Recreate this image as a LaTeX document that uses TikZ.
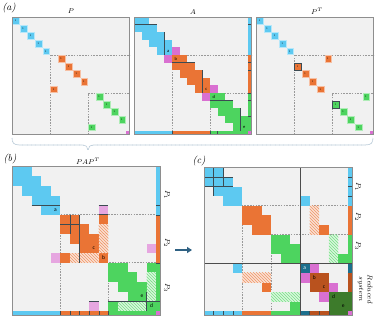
\documentclass[tikz,border=0pt]{standalone}
\usepackage{fontspec}
\newfontfamily\lblfont{Carlito}
\usetikzlibrary{patterns,arrows.meta}
\definecolor{cbg}{HTML}{F1F1F1}
\definecolor{cfr}{HTML}{8E8E8E}
\definecolor{cblue}{HTML}{5DC9F1}
\definecolor{corange}{HTML}{EA7435}
\definecolor{cgreen}{HTML}{4DD45F}
\definecolor{cmag}{HTML}{D970D1}
\definecolor{cpink}{HTML}{E6A6E0}
\definecolor{cteal}{HTML}{1C6F8D}
\definecolor{cdor}{HTML}{B9521E}
\definecolor{cdgr}{HTML}{3D7B2B}
\definecolor{cdk}{HTML}{3C4B52}
\definecolor{carrow}{HTML}{2F6183}
\definecolor{cbrace}{HTML}{9FB7CA}
\newcommand\cells[2]{\foreach \r/\c in {#2}{\fill[#1] (\c,\r) rectangle ++(1,1);}}
\newcommand\hcells[2]{\foreach \r/\c in {#2}{\fill[#1!22] (\c,\r) rectangle ++(1,1);\fill[pattern=north west lines,pattern color=#1!75] (\c,\r) rectangle ++(1,1);}}
\newcommand\pcells[2]{\foreach \r/\c in {#2}{\filldraw[fill=#1,draw=#1!45,line width=0.5pt] (\c+0.05,\r+0.05) rectangle ++(0.9,0.9); \node[font=\sffamily\fontsize{2.5}{2.5}\selectfont,inner sep=0pt] at (\c+0.45,\r+0.5) {1};}}
\tikzset{
  frame/.style={draw=cfr,line width=0.8pt},
  dsh/.style={draw=gray!80,dash pattern=on 1.6pt off 1.2pt,line width=0.5pt},
  dk/.style={draw=cdk,line width=0.6pt},
  sep/.style={draw=gray!60!black,line width=0.7pt},
  cl/.style={font=\lblfont\fontsize{5.5}{5.5}\selectfont,inner sep=0pt,text=black},
  cls/.style={font=\lblfont\fontsize{4.5}{4.5}\selectfont,inner sep=0pt,text=black},
  ttl/.style={font=\fontsize{7.5}{8}\selectfont,inner sep=0pt},
  pnl/.style={font=\fontsize{10}{12}\selectfont\itshape,inner sep=0pt},
  side/.style={font=\fontsize{7}{8}\selectfont,inner sep=0pt,rotate=-90},
}
\begin{document}
\begin{tikzpicture}[x=1pt,y=-1pt]
\useasboundingbox (0,0) rectangle (377,316);
\fill[white] (0,0) rectangle (377,316);
% ---------- titles
\node[pnl] (la) at (9,7.5) {(a)};
\node[ttl] (tP) at (71,11) {$P$};
\node[ttl] (tA) at (193,12) {$A$};
\node[ttl] (tPT) at (317,11) {$P^T$};
\node[pnl] (lb) at (10,159) {(b)};
\node[ttl] (tPAP) at (88,161) {$PAP^T$};
\node[pnl] (lc) at (199,161) {(c)};
% ---------- P
\begin{scope}[shift={(12,17)},x=7.6pt,y=-7.6pt]
\fill[cbg] (0,0) rectangle (15.5,15.5);
\draw[dsh] (5,15.5) -- (5,5) -- (15.5,5);
\draw[dsh] (10,15.5) -- (10,10) -- (15.5,10);
\pcells{cblue}{0/0,1/1,2/2,3/3,4/4}
\pcells{corange}{5/6,6/7,7/8,8/9,9/5}
\pcells{cgreen}{10/11,11/12,12/13,13/14,14/10}
\fill[cmag] (15,15) rectangle (15.5,15.5);
\draw[frame] (0,0) rectangle (15.5,15.5);
\end{scope}
% ---------- A
\begin{scope}[shift={(134,17)},x=7.6pt,y=-7.6pt]
\fill[cbg] (0,0) rectangle (15.5,15.5);
\draw[dsh] (5,15.5) -- (5,5) -- (15.5,5);
\draw[dsh] (10,15.5) -- (10,10) -- (15.5,10);
\cells{cblue}{0/0,0/1,1/0,1/1,1/2,2/1,2/2,2/3,3/2,3/3,3/4,4/3,4/4}
\cells{corange}{5/5,5/6,6/5,6/6,6/7,7/6,7/7,7/8,8/7,8/8,8/9,9/8,9/9}
\cells{cgreen}{10/10,10/11,11/10,11/11,11/12,12/11,12/12,12/13,13/12,13/13,13/14,14/13,14/14}
\cells{cmag}{4/5,5/4,9/10,10/9}
\fill[cblue] (15,0) rectangle (15.5,5); \fill[corange] (15,5) rectangle (15.5,10); \fill[cgreen] (15,10) rectangle (15.5,15);
\fill[cblue] (0,15) rectangle (5,15.5); \fill[corange] (5,15) rectangle (10,15.5); \fill[cgreen] (10,15) rectangle (15,15.5);
\fill[cmag] (15,15) rectangle (15.5,15.5);
\draw[dk] (0,1) -- (3,1); \draw[dk] (4,2) -- (4,5);
\draw[dk] (5,6) -- (8,6); \draw[dk] (9,7) -- (9,10);
\draw[dk] (10,11) -- (13,11); \draw[dk] (14,12) -- (14,15);
\foreach \t in {1,6,7,10,11,13} {\draw[dk,line width=0.4pt] (15,\t) -- (15.5,\t);}
\foreach \t in {5,10,11} {\draw[dk,line width=0.4pt] (\t,15) -- (\t,15.5);}
\node[cls] (Aa) at (4.5,4.5) {a};
\node[cls] (Ab) at (5.5,5.5) {b};
\node[cls] (Ac) at (9.5,9.5) {c};
\node[cls] (Ad) at (10.5,10.5) {d};
\node[cls] (Ae) at (14.5,14.5) {e};
\draw[frame] (0,0) rectangle (15.5,15.5);
\end{scope}
% ---------- P^T
\begin{scope}[shift={(256,17)},x=7.6pt,y=-7.6pt]
\fill[cbg] (0,0) rectangle (15.5,15.5);
\draw[dsh] (5,15.5) -- (5,5) -- (15.5,5);
\draw[dsh] (10,15.5) -- (10,10) -- (15.5,10);
\pcells{cblue}{0/0,1/1,2/2,3/3,4/4}
\pcells{corange}{5/9,6/5,7/6,8/7,9/8}
\pcells{cgreen}{10/14,11/10,12/11,13/12,14/13}
\draw[cdk,line width=0.6pt] (5.05,6.05) rectangle ++(0.9,0.9);
\draw[cdk,line width=0.6pt] (10.05,11.05) rectangle ++(0.9,0.9);
\fill[cmag] (15,15) rectangle (15.5,15.5);
\draw[frame] (0,0) rectangle (15.5,15.5);
\end{scope}
% ---------- brace
\draw[cbrace,line width=0.6pt,dash pattern=on 0.8pt off 0.5pt] (12,138) .. controls (12,143) and (14,145) .. (20,145) -- (82,145) .. controls (86,145) and (88,147) .. (88,150) .. controls (88,147) and (90,145) .. (94,145) -- (365,145) .. controls (371,145) and (373,143) .. (373,138);
% ---------- (b) PAP^T
\begin{scope}[shift={(12.3,166.7)},x=9.6pt,y=-9.6pt]
\fill[cbg] (0,0) rectangle (15.45,15.45);
\draw[dsh] (5,15.45) -- (5,5) -- (15.45,5);
\draw[dsh] (10,15.45) -- (10,10) -- (15.45,10);
\cells{cblue}{0/0,0/1,1/0,1/1,1/2,2/1,2/2,2/3,3/2,3/3,3/4,4/3,4/4}
\cells{corange}{5/5,5/6,5/9,6/5,6/6,6/7,7/6,7/7,7/8,8/7,8/8,9/5,9/9}
\hcells{corange}{6/9,7/9,8/9,9/6,9/7,9/8}
\cells{cgreen}{10/10,10/11,10/14,11/10,11/11,11/12,12/11,12/12,12/13,13/12,13/13,14/10,14/14}
\hcells{cgreen}{11/14,12/14,13/14,14/11,14/12,14/13}
\cells{cpink}{4/9,9/4,8/14,14/8}
\fill[cblue] (15,0) rectangle (15.45,5); \fill[corange] (15,5) rectangle (15.45,10); \fill[cgreen] (15,10) rectangle (15.45,15);
\fill[cblue] (0,15) rectangle (5,15.45); \fill[corange] (5,15) rectangle (10,15.45); \fill[cgreen] (10,15) rectangle (15,15.45);
\fill[cmag] (15,15) rectangle (15.45,15.45);
\draw[dk] (2,4) -- (5,4);
\draw[dk] (9,4) -- (10,4);
\draw[dk] (9,5) -- (10,5);
\draw[dk] (5,6) -- (7,6);
\draw[dk] (6,5) -- (6,7);
\draw[dk] (7,5) -- (7,10);
\draw[dk] (10,14) -- (15.45,14);
\draw[dk] (14,13) -- (14,15);
\draw[dk] (8,14) -- (9,14);
\foreach \t in {4,5,10,14} {\draw[dk,line width=0.4pt] (15,\t) -- (15.45,\t);}
\foreach \t in {5,6,7,8,9,10} {\draw[dk,line width=0.4pt] (\t,15) -- (\t,15.45);}
\node[cl] (Ba) at (4.5,4.5) {a};
\node[cl] (Bc) at (8.5,8.5) {c};
\node[cl] (Bb) at (9.5,9.5) {b};
\node[cl] (Be) at (13.5,13.5) {e};
\node[cl] (Bd) at (14.5,14.5) {d};
\draw[frame] (0,0) rectangle (15.45,15.45);
\end{scope}
\node[side] (bP1) at (167,195) {$P_1$};
\node[side] (bP2) at (167,243) {$P_2$};
\node[side] (bP3) at (167,288) {$P_3$};
% ---------- arrow
\coordinate (arS) at (175,250);
\coordinate (arE) at (192,250);
\draw[carrow,line width=1.3pt,-{Triangle[length=5pt,width=6pt]}] (arS) -- (arE);
% ---------- (c)
\begin{scope}[shift={(204,167.3)},x=9.6pt,y=-9.6pt]
\fill[cbg] (0,0) rectangle (15.45,15.45);
\draw[dsh] (4,15.45) -- (4,4) -- (15.45,4);
\draw[dsh] (7,15.45) -- (7,7) -- (15.45,7);
\cells{cblue}{0/0,0/1,1/0,1/1,1/2,2/1,2/2,2/3,3/2,3/3,3/10,10/3}
\cells{corange}{4/4,4/5,5/4,5/5,5/6,6/5,6/6,6/12,12/6}
\hcells{corange}{4/11,5/11,6/11,11/4,11/5,11/6}
\cells{cgreen}{7/7,7/8,8/7,8/8,8/9,9/8,9/9,9/14,14/9}
\hcells{cgreen}{7/13,8/13,9/13,13/7,13/8,13/9}
\cells{cteal}{10/10}
\cells{cmag}{10/11,11/10,12/13,13/12}
\cells{cdor}{11/11,11/12,12/11,12/12}
\cells{cdgr}{13/13,13/14,14/13,14/14}
\fill[cblue] (15,0) rectangle (15.45,4); \fill[corange] (15,4) rectangle (15.45,7); \fill[cgreen] (15,7) rectangle (15.45,10);
\fill[cteal] (15,10) rectangle (15.45,11); \fill[cdor] (15,11) rectangle (15.45,13); \fill[cdgr] (15,13) rectangle (15.45,15);
\fill[cblue] (0,15) rectangle (4,15.45); \fill[corange] (4,15) rectangle (7,15.45); \fill[cgreen] (7,15) rectangle (10,15.45);
\fill[cteal] (10,15) rectangle (11,15.45); \fill[cdor] (11,15) rectangle (13,15.45); \fill[cdgr] (13,15) rectangle (15,15.45);
\fill[cmag] (15,15) rectangle (15.45,15.45);
\draw[dk] (1,0) -- (1,3); \draw[dk] (2,0) -- (2,2);
\draw[dk] (0,1) -- (3,1); \draw[dk] (0,2) -- (3,2);
\foreach \t in {1,2,3} {\draw[dk,line width=0.4pt] (\t,15) -- (\t,15.45);}
\foreach \t in {11,12,13} {\draw[dk,line width=0.4pt] (\t,15) -- (\t,15.45);}
\foreach \t in {1,2,3} {\draw[dk,line width=0.4pt] (15,\t) -- (15.45,\t);}
\draw[sep] (10,0) -- (10,15.45);
\draw[sep] (0,10) -- (15.45,10);
\node[cl,text=white] (Ca) at (10.5,10.5) {a};
\node[cl] (Cb) at (11.5,11.5) {b};
\node[cl] (Cc) at (12.5,12.5) {c};
\node[cl] (Cd) at (13.5,13.5) {d};
\node[cl] (Ce) at (14.5,14.5) {e};
\draw[frame] (0,0) rectangle (15.45,15.45);
\end{scope}
\node[side] (cP1) at (358,187) {$P_1$};
\node[side] (cP2) at (358,217) {$P_2$};
\node[side] (cP3) at (358,246) {$P_3$};
\node[side,align=center,font=\fontsize{7}{8.5}\selectfont\itshape] (cRS) at (365,289) {Reduced\\system};
\end{tikzpicture}
\end{document}
